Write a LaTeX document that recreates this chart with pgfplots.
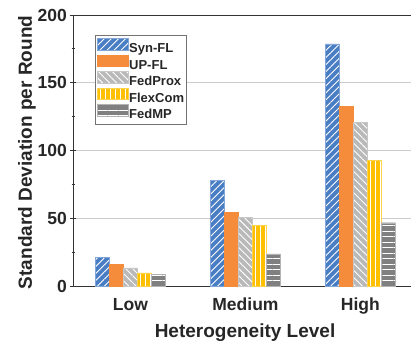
\documentclass[border=0pt]{standalone}
\usepackage{pgfplots}
\pgfplotsset{compat=1.18}
\usepackage{fontspec}
\setmainfont{Liberation Sans}
\usetikzlibrary{patterns.meta}
\definecolor{cblue}{RGB}{74,126,196}
\definecolor{corange}{RGB}{245,140,60}
\definecolor{cgray}{RGB}{185,185,185}
\definecolor{cyellow}{RGB}{255,192,0}
\definecolor{cdgray}{RGB}{128,128,128}
\begin{document}
\begin{tikzpicture}
\useasboundingbox (-73pt,-55pt) rectangle (338pt,286pt);
\begin{axis}[
  at={(0pt,0pt)}, anchor=south west,
  scale only axis,
  width=338pt, height=271pt,
  ybar=0pt, bar width=14pt,
  xmin=-0.5, xmax=2.44,
  ymin=0, ymax=200,
  xtick=data, xticklabels={Low,Medium,High},
  ytick={0,50,100,150,200},
  minor ytick={25,75,125,175},
  axis x line*=box,
  axis y line*=left,
  axis line style={draw=black!80, line width=1pt},
  x tick style={draw=none},
  y tick style={draw=black!80, line width=0.8pt},
  major tick length=6pt, minor tick length=3pt,
  tick align=center,
  ymajorgrids,
  major grid style={draw=black!20, line width=0.8pt},
  /pgf/number format/assume math mode=true,
  tick label style={font=\fontsize{17.5}{20}\selectfont\bfseries, text=black!85},
  xticklabel style={anchor=base, yshift=-21pt},
  yticklabel style={anchor=east, inner sep=0pt, xshift=-3pt},
  yticklabel shift=0pt,
  label style={font=\fontsize{19}{22}\selectfont\bfseries, text=black!85},
  xlabel={Heterogeneity Level},
  ylabel={Standard Deviation per Round},
  xlabel style={at={(axis description cs:0.509,0)}, anchor=base, yshift=-51pt},
  ylabel style={at={(axis description cs:-0.1213,0.493)}, anchor=base},
  legend style={at={(0.065,0.926)}, anchor=north west, draw=black!55, line width=0.6pt,
    font=\fontsize{13}{15}\selectfont\bfseries, text=black!85, inner xsep=1.5pt, inner ysep=3pt,
    row sep=-0.6pt, nodes={inner sep=1pt}, cells={anchor=west}},
  legend image code/.code={\draw[#1] (0pt,-1pt) rectangle (31pt,10.5pt);},
  legend cell align=left,
]
\addplot[fill=cblue, draw=cblue!70!white, line width=0.4pt,
  postaction={pattern={Lines[angle=45,distance=5pt,line width=0.9pt]}, pattern color=white}]
  coordinates {(0,21) (1,78.2) (2,178.6)};
\addplot[fill=corange, draw=corange, line width=0.4pt]
  coordinates {(0,16) (1,54.6) (2,132.8)};
\addplot[fill=cgray, draw=cgray!80!white, line width=0.4pt,
  postaction={pattern={Lines[angle=-45,distance=5pt,line width=0.9pt]}, pattern color=white}]
  coordinates {(0,13.3) (1,50.9) (2,120.8)};
\addplot[fill=cyellow, draw=cyellow!70!white, line width=0.4pt,
  postaction={pattern={Lines[angle=90,distance=5pt,line width=0.9pt]}, pattern color=white}]
  coordinates {(0,9.6) (1,44.8) (2,92.8)};
\addplot[fill=cdgray, draw=cdgray!60!white, line width=0.4pt,
  postaction={pattern={Lines[angle=0,distance=5.5pt,line width=0.9pt]}, pattern color=white}]
  coordinates {(0,8.8) (1,23.8) (2,46.7)};
\legend{Syn-FL,UP-FL,FedProx,FlexCom,FedMP}
\end{axis}
\end{tikzpicture}
\end{document}
